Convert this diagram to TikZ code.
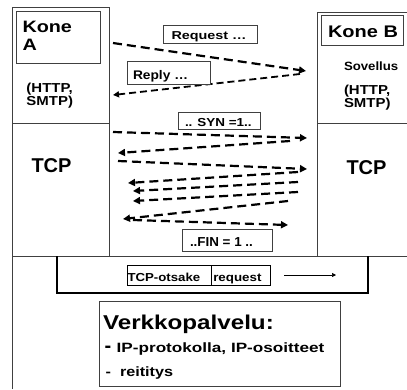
\documentclass[tikz,border=0pt]{standalone}
\usepackage{fontspec}
\setmainfont{Liberation Sans}
\usepackage{graphicx}
\usetikzlibrary{arrows.meta}
\newcommand{\TT}[3]{{\fontsize{#1}{#1}\selectfont\bfseries\scalebox{#2}[1]{#3}}}
\begin{document}
\begin{tikzpicture}[x=1pt,y=-1pt,
  frame/.style={draw=black!75,line width=0.9pt},
  lbox/.style={draw=black!75,line width=0.9pt,fill=white,inner sep=0pt,outer sep=0pt,anchor=north west},
  sbox/.style={draw=black,line width=0.7pt,inner sep=0pt,outer sep=0pt,anchor=north west},
  txt/.style={inner sep=0pt,outer sep=0pt,anchor=base west},
  darr/.style={line width=2.2pt,dash pattern=on 9pt off 5pt,-{Triangle[length=7pt,width=7pt]}},
  rarr/.style={line width=1.8pt,dash pattern=on 7pt off 4pt,-{Triangle[length=6pt,width=6pt]}},
  farr/.style={line width=0.6pt,-{Triangle[length=4pt,width=4pt]}},
  band/.style={draw=black,line width=2pt}]
\useasboundingbox (0,0) rectangle (407,389);
% frames
\draw[frame] (12,389) -- (12,7) -- (109,7) -- (109,256);
\draw[frame] (12,123) -- (109,123);
\draw[frame] (407,12) -- (317,12) -- (317,256);
\draw[frame] (317,123) -- (407,123);
\draw[frame] (12,256) -- (407,256);
\draw[band] (57,256) -- (57,293) -- (368,293) -- (368,256);
% arrows
\coordinate (r1s) at (113,43); \coordinate (r1e) at (306,71);
\draw[darr] (r1s) -- (r1e);
\coordinate (r2s) at (300,74); \coordinate (r2e) at (113,95);
\draw[rarr] (r2s) -- (r2e);
\coordinate (a1s) at (113,132); \coordinate (a1e) at (307,138);
\coordinate (a2s) at (290,141); \coordinate (a2e) at (118,153);
\coordinate (a3s) at (118,161); \coordinate (a3e) at (307,169);
\coordinate (a4s) at (298,172); \coordinate (a4e) at (128,183);
\coordinate (a5s) at (298,182); \coordinate (a5e) at (133,191);
\coordinate (a6s) at (298,192); \coordinate (a6e) at (133,201);
\coordinate (a7s) at (288,201); \coordinate (a7e) at (123,219);
\coordinate (a8s) at (133,220); \coordinate (a8e) at (288,225);
\draw[darr] (a1s) -- (a1e);
\draw[darr] (a2s) -- (a2e);
\draw[darr] (a3s) -- (a3e);
\draw[darr] (a4s) -- (a4e);
\draw[darr] (a5s) -- (a5e);
\draw[darr] (a6s) -- (a6e);
\draw[darr] (a7s) -- (a7e);
\draw[darr] (a8s) -- (a8e);
% boxes
\node[lbox, minimum width=84pt, minimum height=52pt] (boxA) at (16,11) {};
\node[lbox, minimum width=82pt, minimum height=30pt] (boxB) at (321,15) {};
\node[lbox, minimum width=94pt, minimum height=18pt] (reqB) at (163,25) {};
\node[lbox, minimum width=83pt, minimum height=23pt] (repB) at (127,61) {};
\node[lbox, minimum width=82pt, minimum height=17pt] (synB) at (178,112) {};
\node[lbox, minimum width=90pt, minimum height=22pt] (finB) at (182,229) {};
\node[sbox, minimum width=84pt, minimum height=20pt] (otsB) at (127,265) {};
\node[sbox, minimum width=59pt, minimum height=20pt] (rqB) at (211,265) {};
\node[lbox, minimum width=241pt, minimum height=85pt] (vkB) at (99,301) {};
\coordinate (ba1) at (284,275); \coordinate (ba2) at (336,275);
\draw[farr] (ba1) -- (ba2);
% texts
\node[txt] (kA1) at (22.5,32.3) {\TT{16.5}{1.2}{Kone}};
\node[txt] (kA2) at (22.5,50.5) {\TT{16.5}{1.2}{A}};
\node[txt] (hA1) at (26.5,92.7) {\TT{13}{1.15}{(HTTP,}};
\node[txt] (hA2) at (26.5,105.7) {\TT{13}{1.15}{SMTP)}};
\node[txt] (tcpA) at (31.5,172.5) {\TT{20}{1}{TCP}};
\node[txt] (kB) at (328,37) {\TT{16.8}{1.19}{Kone B}};
\node[txt] (sov) at (344,70.7) {\TT{12}{1.1}{Sovellus}};
\node[txt] (hB1) at (344,94) {\TT{13}{1.15}{(HTTP,}};
\node[txt] (hB2) at (344,107) {\TT{13}{1.15}{SMTP)}};
\node[txt] (tcpB) at (346.5,174.3) {\TT{20}{1}{TCP}};
\node[txt] (reqT) at (171.5,39.5) {\TT{11.5}{1.25}{Request …}};
\node[txt] (repT) at (133,79) {\TT{12.5}{1.1}{Reply …}};
\node[txt] (synT) at (185,126.7) {\TT{11.6}{1.16}{.. SYN =1..}};
\node[txt] (finT) at (190,246) {\TT{13}{1.03}{..FIN = 1 ..}};
\node[txt] (otsT) at (127.5,281) {\TT{11.6}{1.14}{TCP-otsake}};
\node[txt] (rqT) at (213.3,281) {\TT{11.6}{1.15}{request}};
\node[txt] (vkT) at (103,329) {\TT{20}{1.21}{Verkkopalvelu:}};
\node[txt] (d1) at (104.5,352) {\TT{20}{1}{-}};
\node[txt] (ipT) at (116.7,352) {\TT{13.5}{1.27}{IP-protokolla, IP-osoitteet}};
\node[txt] (d2) at (105.5,376) {\TT{13.5}{1.2}{-}};
\node[txt] (reiT) at (120,376) {\TT{13.5}{1.2}{reititys}};
\end{tikzpicture}
\end{document}
